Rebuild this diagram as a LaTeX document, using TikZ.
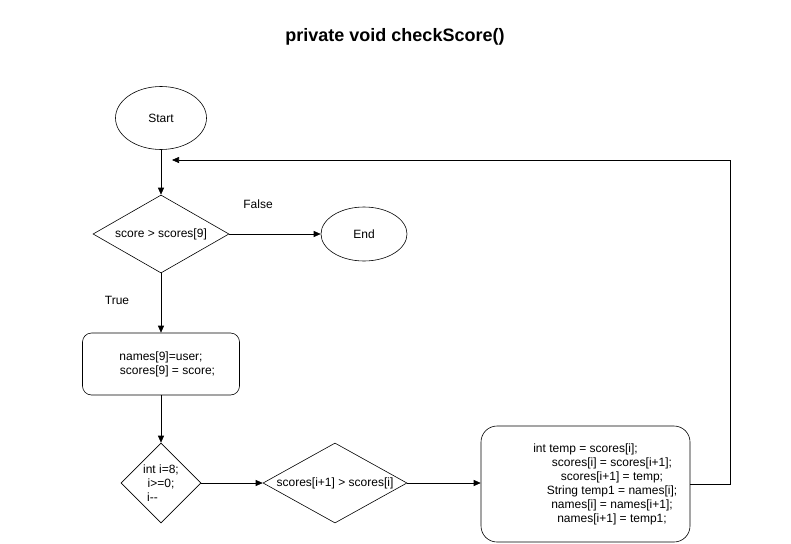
\documentclass[tikz,border=0pt]{standalone}
\usepackage{fontspec}
\setmainfont{Liberation Sans}
\usetikzlibrary{shapes.geometric,arrows.meta}

\begin{document}
\begin{tikzpicture}[x=1pt,y=-1pt,%%
  arrowStyle/.style={-{Triangle[length=7pt,width=6pt]},semithick},%%
  lineStyle/.style={-,semithick},%%
  termStyle/.style={draw,semithick,ellipse,inner sep=0pt},%%
  decStyle/.style={draw,semithick,diamond,inner sep=0pt,align=center},%%
  boxStyle/.style={draw,semithick,rectangle,align=center},%%
  labelStyle/.style={inner sep=0pt}%%
]
%%
\fontsize{12}{14}\selectfont
%%
\pgfmathsetmacro{\xmain}{161}
\pgfmathsetmacro{\yrow}{483}
\pgfmathsetmacro{\lead}{53}
%%
%% Page size.
\useasboundingbox (0,0) rectangle (791,543);
%%
%% Title.
\node[labelStyle,font=\fontsize{18}{20}\selectfont\bfseries] (title) at (395,37) {private void checkScore()};
%%
%% Start and end.
\node[termStyle,minimum width=91pt,minimum height=63pt] (start) at (\xmain,118) {Start};
\node[termStyle,minimum width=86pt,minimum height=54pt] (stop) at (364,234) {End};
%%
%% First test.
\node[decStyle,aspect=1.74,minimum width=136pt,minimum height=78pt] (decScore) at (\xmain,234) {score > scores[9]};
\node[labelStyle] (falseLabel) at (258,204) {False};
\node[labelStyle] (trueLabel) at (117,300) {True};
%%
%% Store the new score.
\node[boxStyle,rounded corners=9pt,minimum width=157pt,minimum height=62pt] (store) at (\xmain,364)
  {names[9]=user;\\\hspace*{13pt}scores[9] = score;};
%%
%% The loop.
\node[decStyle,aspect=1,minimum width=80pt,minimum height=80pt] (loop) at (\xmain,\yrow)
  {int i=8;\\i>=0;\\i-{}-\hspace*{17pt}};
\node[decStyle,aspect=1.8,minimum width=144pt,minimum height=80pt] (decSwap) at (335,\yrow) {scores[i+1] > scores[i]};
%%
%% Swap the entries.
\node[boxStyle,rounded corners=16pt,minimum width=209pt,minimum height=116pt] (swap) at (585.5,484)
  {int temp = scores[i];\\
   \hspace*{\lead pt}scores[i] = scores[i+1];\\
   \hspace*{\lead pt}scores[i+1] = temp;\\
   \hspace*{\lead pt}String temp1 = names[i];\\
   \hspace*{\lead pt}names[i] = names[i+1];\\
   \hspace*{\lead pt}names[i+1] = temp1;};
%%
%% Free end of the way back.
\coordinate (backEnd) at (172,160);
%%
%% Connectors.
\draw[arrowStyle] (start) -- (decScore);
\draw[arrowStyle] (decScore) -- (stop);
\draw[arrowStyle] (decScore) -- (store);
\draw[arrowStyle] (store) -- (loop);
\draw[arrowStyle] (loop) -- (decSwap);
\draw[arrowStyle] (decSwap.east) -- (decSwap.east -| swap.west);
\draw[arrowStyle] (swap.east) -- ++(40,0) |- (backEnd);
\end{tikzpicture}
\end{document}
